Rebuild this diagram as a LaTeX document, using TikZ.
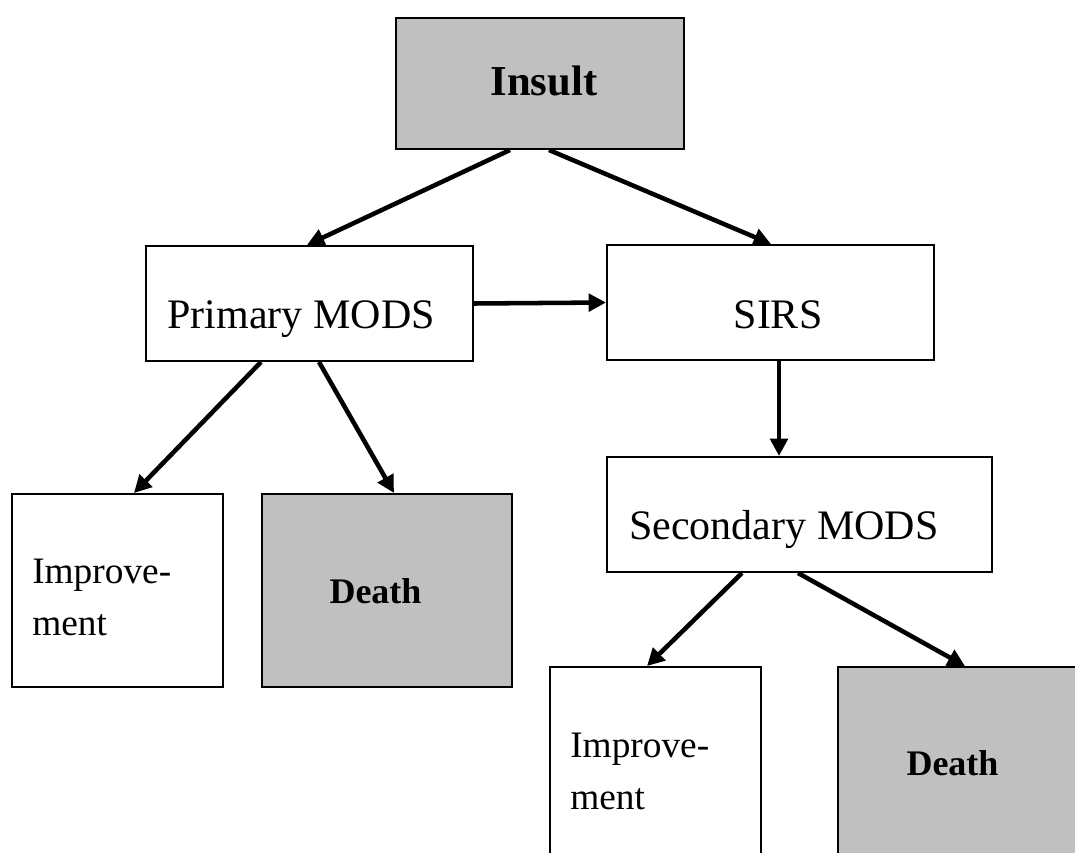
\documentclass[tikz,border=0pt]{standalone}
\usepackage{fontspec}
\setmainfont{Liberation Serif}
\usetikzlibrary{arrows.meta,calc}
\definecolor{boxgray}{HTML}{C0C0C0}
\tikzset{
  box/.style={draw=black, line width=1.5pt, rectangle, inner sep=0pt, fill=white},
  graybox/.style={box, fill=boxgray},
  lbl/.style={inner sep=0pt, font=\fontsize{31.5}{37}\selectfont},
  implbl/.style={inner sep=0pt, anchor=base west, font=\fontsize{28}{31.5}\selectfont},
  deathlbl/.style={inner sep=0pt, anchor=base, font=\fontsize{27}{32}\selectfont\bfseries},
  arr/.style={line width=3.4pt, -{Triangle[length=13pt,width=13pt]}}
}
\begin{document}
\begin{tikzpicture}[x=0.75pt,y=-0.75pt]
\useasboundingbox (0,0) rectangle (1075,853);
\clip (0,0) rectangle (1075,853);

% boxes
\node[graybox, minimum width=216pt, minimum height=98.25pt] (insult) at (540,83.5) {};
\node[box, minimum width=245.25pt, minimum height=86.25pt] (pmods) at (309.5,303.5) {};
\node[box, minimum width=245.25pt, minimum height=86.25pt] (sirs) at (770.5,302.5) {};
\node[box, minimum width=288.75pt, minimum height=86.25pt] (smods) at (799.5,514.5) {};
\node[box, minimum width=158.25pt, minimum height=144.75pt] (imp1) at (117.5,590.5) {};
\node[graybox, minimum width=187.5pt, minimum height=144.75pt] (death1) at (387,590.5) {};
\node[box, minimum width=158.25pt, minimum height=159.75pt] (imp2) at (655.5,773.5) {};
\node[graybox, minimum width=196.5pt, minimum height=159.75pt] (death2) at (969,773.5) {};

% texts
\node[lbl, anchor=base, font=\fontsize{32}{38}\selectfont\bfseries] (insultT) at (544,95) {Insult};
\node[lbl, anchor=base east] (pmodsT) at (435,328) {Primary MODS};
\node[lbl, anchor=base] (sirsT) at (778,328) {SIRS};
\node[lbl, anchor=base west] (smodsT) at (629,539) {Secondary MODS};
\node[implbl] (imp1T) at (32,583) {\begin{tabular}[t]{@{}l@{}}Improve-\\[7.5pt]ment\end{tabular}};
\node[deathlbl] (death1T) at (375.5,603) {Death};
\node[implbl] (imp2T) at (570,757) {\begin{tabular}[t]{@{}l@{}}Improve-\\[7.5pt]ment\end{tabular}};
\node[deathlbl] (death2T) at (952.5,775) {Death};

% connectors
\draw[arr] ($(insult.south west)+(115,0)$) -- ($(pmods.north west)+(162,0)$);
\draw[arr] ($(insult.south west)+(154,0)$) -- ($(sirs.north west)+(165,0)$);
\draw[arr] (pmods.east) -- (sirs.west);
\draw[arr] ($(pmods.south west)+(116,0)$) -- ($(imp1.north west)+(123,0)$);
\draw[arr] ($(pmods.south west)+(174,0)$) -- ($(death1.north west)+(133,0)$);
\draw[arr] ($(sirs.south west)+(173,0)$) -- ($(smods.north west)+(173,0)$);
\draw[arr] ($(smods.south west)+(136,0)$) -- ($(imp2.north west)+(98,0)$);
\draw[arr] ($(smods.south west)+(192,0)$) -- ($(death2.north west)+(128,0)$);
\end{tikzpicture}
\end{document}
